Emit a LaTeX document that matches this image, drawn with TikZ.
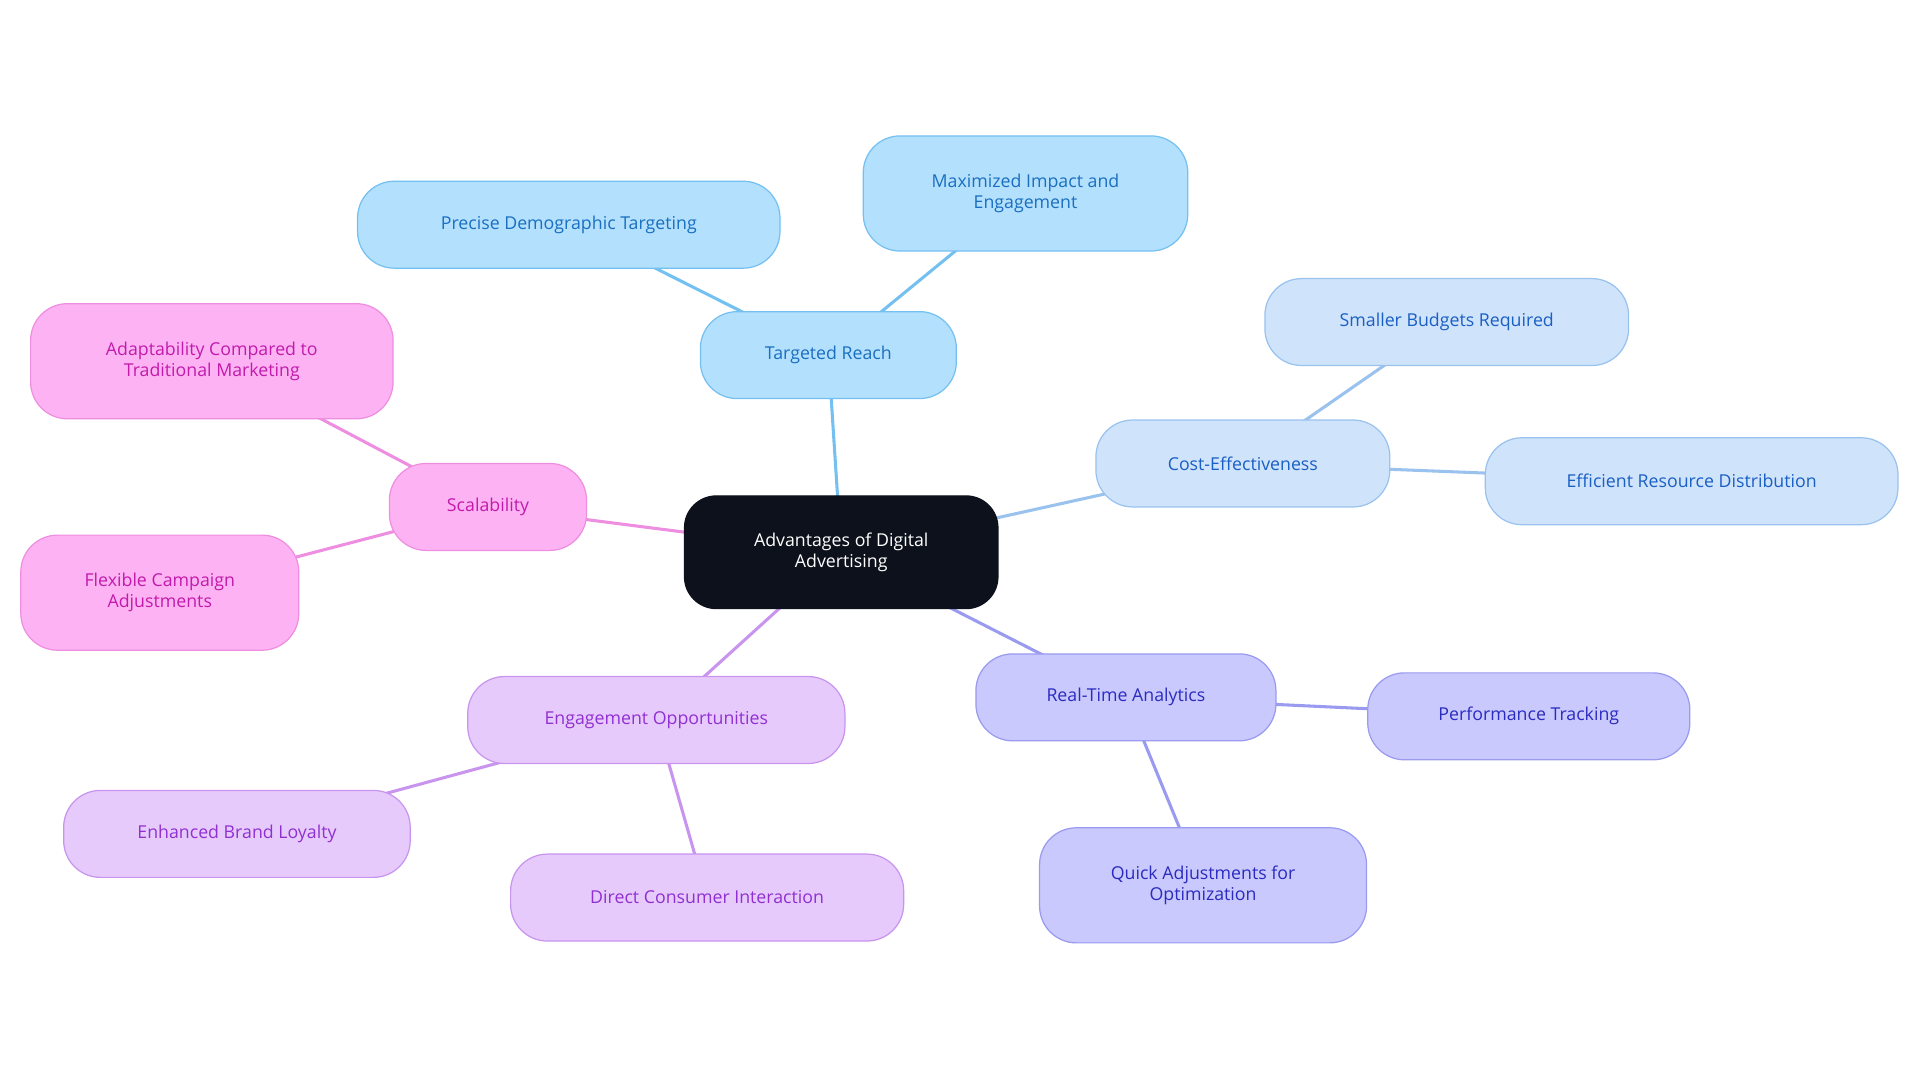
\documentclass[tikz,border=0pt]{standalone}
\usepackage{fontspec}
\setmainfont{Open Sans}
\usetikzlibrary{backgrounds}
\definecolor{tf}{HTML}{B3E0FD}\definecolor{ts}{HTML}{74C0F0}\definecolor{tt}{HTML}{1A6FC0}
\definecolor{cf}{HTML}{CFE3FB}\definecolor{cs}{HTML}{9AC2EE}\definecolor{ct}{HTML}{1A5FC4}
\definecolor{rf}{HTML}{C9C9FD}\definecolor{rs}{HTML}{9A9AF0}\definecolor{rt}{HTML}{2B2BC0}
\definecolor{ef}{HTML}{E7CAFC}\definecolor{es}{HTML}{C894EE}\definecolor{et}{HTML}{9030D0}
\definecolor{sf}{HTML}{FDB3F3}\definecolor{ss}{HTML}{EE8EE0}\definecolor{st}{HTML}{C21AAB}
\definecolor{dark}{HTML}{0C111B}
\tikzset{
 box/.style={draw, line width=1pt, rounded corners=30pt, align=center, inner sep=0pt,
   font=\fontsize{14.5}{17}\selectfont},
 tr/.style={box, fill=tf, draw=ts, text=tt},
 ce/.style={box, fill=cf, draw=cs, text=ct},
 rta/.style={box, fill=rf, draw=rs, text=rt},
 eo/.style={box, fill=ef, draw=es, text=et},
 sc/.style={box, fill=sf, draw=ss, text=st},
 ln/.style={line width=2.5pt},
}
\begin{document}
\begin{tikzpicture}[x=1pt,y=-1pt]
\useasboundingbox (0,0) rectangle (1568,884);
\node[box, fill=dark, draw=dark, text=white, minimum width=256pt, minimum height=92pt, rounded corners=26pt] (c) at (687,451) {Advantages of Digital\\Advertising};
\node[tr, minimum width=209pt, minimum height=71pt] (t) at (676.5,290) {Targeted Reach};
\node[tr, minimum width=345pt, minimum height=71pt] (t1) at (464.5,183.5) {Precise Demographic Targeting};
\node[tr, minimum width=265pt, minimum height=94pt] (t2) at (837.5,158) {Maximized Impact and\\Engagement};
\node[ce, minimum width=240pt, minimum height=71pt] (k) at (1015,378.5) {Cost-Effectiveness};
\node[ce, minimum width=297pt, minimum height=71pt] (k1) at (1181.5,263) {Smaller Budgets Required};
\node[ce, minimum width=337pt, minimum height=71pt] (k2) at (1381.5,393) {Efficient Resource Distribution};
\node[rta, minimum width=245pt, minimum height=71pt] (r) at (919.5,569.5) {Real-Time Analytics};
\node[rta, minimum width=263pt, minimum height=71pt] (r1) at (1248.5,585) {Performance Tracking};
\node[rta, minimum width=267pt, minimum height=94pt] (r2) at (982.5,723) {Quick Adjustments for\\Optimization};
\node[eo, minimum width=308pt, minimum height=71pt] (e) at (536,588) {Engagement Opportunities};
\node[eo, minimum width=283pt, minimum height=71pt] (e1) at (193.5,681) {Enhanced Brand Loyalty};
\node[eo, minimum width=321pt, minimum height=71pt] (e2) at (577.5,733) {Direct Consumer Interaction};
\node[sc, minimum width=161pt, minimum height=71pt] (s) at (398.5,414) {Scalability};
\node[sc, minimum width=296pt, minimum height=94pt] (s1) at (173,295) {Adaptability Compared to\\Traditional Marketing};
\node[sc, minimum width=227pt, minimum height=94pt] (s2) at (130.5,484) {Flexible Campaign\\Adjustments};
\begin{scope}[on background layer]
\draw[ln, ts] (c.center) -- (t.center) (t.center) -- (t1.center) (t.center) -- (t2.center);
\draw[ln, cs] (c.center) -- (k.center) (k.center) -- (k1.center) (k.center) -- (k2.center);
\draw[ln, rs] (c.center) -- (r.center) (r.center) -- (r1.center) (r.center) -- (r2.center);
\draw[ln, es] (c.center) -- (e.center) (e.center) -- (e1.center) (e.center) -- (e2.center);
\draw[ln, ss] (c.center) -- (s.center) (s.center) -- (s1.center) (s.center) -- (s2.center);
\end{scope}
\end{tikzpicture}
\end{document}
